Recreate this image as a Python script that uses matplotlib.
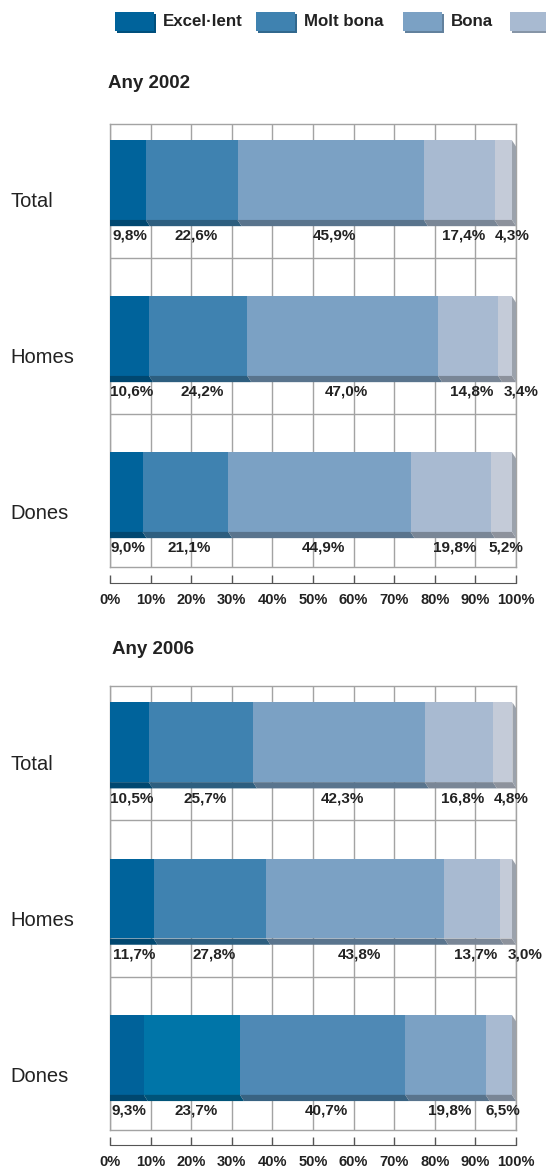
import matplotlib
matplotlib.use('Agg')
import matplotlib.pyplot as plt
import matplotlib.transforms as mtransforms
import matplotlib.colors as mcolors
from matplotlib.patches import Polygon, Rectangle
import numpy as np

plt.rcParams['font.family'] = ['Liberation Sans', 'DejaVu Sans']

# data
categories = ['Total', 'Homes', 'Dones']
legend_labels = ['Excel·lent', 'Molt bona', 'Bona']  # the rest runs off the page
years = ['Any 2002', 'Any 2006']
values_2002 = [[9.8, 22.6, 45.9, 17.4, 4.3],
               [10.6, 24.2, 47.0, 14.8, 3.4],
               [9.0, 21.1, 44.9, 19.8, 5.2]]
values_2006 = [[10.5, 25.7, 42.3, 16.8, 4.8],
               [11.7, 27.8, 43.8, 13.7, 3.0],
               [9.3, 23.7, 40.7, 19.8, 6.5]]
ticks = list(range(0, 101, 10))

# styles
colors = ['#00639B', '#3F82B0', '#7BA1C4', '#A8BAD1', '#C4CBD8']
colors_dones_2006 = ['#00629A', '#0075A8', '#4F89B5', '#7BA1C4', '#A8BAD1']
side_color = '#9BA2AC'
grid_color = '#A3A3A3'
text_color = '#222222'

W, H = 546, 1176
fig = plt.figure(figsize=(W / 100, H / 100), dpi=100)

# overlay in pixel units for legend and titles
ov = fig.add_axes([0, 0, 1, 1])
ov.set_xlim(0, W)
ov.set_ylim(H, 0)
ov.axis('off')


def px_axes(x0, y0, x1, y1):
    return fig.add_axes([x0 / W, 1 - y1 / H, (x1 - x0) / W, (y1 - y0) / H])


def darker(c, f=0.72):
    r, g, b = mcolors.to_rgb(c)
    return (r * f, g * f, b * f)


def label_positions(vals, gap=12):
    lefts = np.concatenate([[0], np.cumsum(vals)[:-1]])
    xs = list(lefts + np.array(vals) / 2)
    for i in range(1, len(xs)):
        xs[i] = max(xs[i], xs[i - 1] + gap)
    return xs


def draw_panel(top, bottom, axis_y, title, title_xy, values, color_rows):
    ax = px_axes(110, top, 516, bottom)
    ax.set_xlim(0, 100)
    ax.set_ylim(2.48, -0.36)
    ax.set_xticks(ticks)
    ax.set_yticks([])
    ax.tick_params(length=0, labelbottom=False)
    ax.grid(axis='x', color=grid_color, lw=1, zorder=0)
    ax.set_axisbelow(True)
    for s in ax.spines.values():
        s.set_color(grid_color)
        s.set_linewidth(1)
    for yy in [0.5, 1.5]:
        ax.axhline(yy, color=grid_color, lw=1, zorder=0)

    shift = ax.transData + mtransforms.ScaledTranslation(-4 / 100, 0, fig.dpi_scale_trans)
    h = 0.51
    dx, dy = 1.0, 0.04
    for i, (cat, vals, cols) in enumerate(zip(categories, values, color_rows)):
        lefts = np.concatenate([[0], np.cumsum(vals)[:-1]])
        bars = ax.barh(i, vals, left=lefts, height=h, color=cols, lw=0, zorder=3)
        for p in bars:
            p.set_transform(shift)
        yb = i + h / 2
        yt = i - h / 2
        for x0, v, c in zip(lefts, vals, cols):
            x1 = x0 + v
            ax.add_patch(Polygon([(x0, yb), (x1, yb), (x1 + dx, yb + dy), (x0 + dx, yb + dy)],
                                 closed=True, color=darker(c), lw=0, zorder=3, transform=shift))
        xe = lefts[-1] + vals[-1]
        ax.add_patch(Polygon([(xe, yt), (xe + dx, yt + dy), (xe + dx, yb + dy), (xe, yb)],
                             closed=True, color=side_color, lw=0, zorder=3, transform=shift))
        for x, v in zip(label_positions(vals), vals):
            ax.text(x, i + 0.357, f'{v:.1f}%'.replace('.', ','), ha='center', va='center',
                    fontsize=11, fontweight='bold', color=text_color, zorder=4)
        ax.text(-0.246, i + 0.14, cat, transform=ax.get_yaxis_transform(), ha='left',
                va='center', fontsize=14.5, color=text_color)

    # percent scale
    sx = px_axes(110, axis_y - 8, 516, axis_y)
    sx.set_xlim(0, 100)
    sx.set_yticks([])
    sx.set_xticks(ticks)
    sx.set_xticklabels([f'{t}%' for t in ticks], fontsize=10.5, fontweight='bold', color=text_color)
    sx.tick_params(axis='x', direction='in', length=6, width=1, color='#555555', pad=7.5)
    for k in ['top', 'left', 'right']:
        sx.spines[k].set_visible(False)
    sx.spines['bottom'].set_color('#555555')
    sx.patch.set_alpha(0)

    ov.text(title_xy[0], title_xy[1], title, fontsize=13.5, fontweight='bold',
            color=text_color, ha='left', va='center')


draw_panel(124, 567, 583, years[0], (108, 83), values_2002, [colors] * 3)
draw_panel(686, 1130, 1145, years[1], (112, 650), values_2006,
           [colors, colors, colors_dones_2006])

# legend across the top (fourth key runs off the right edge like the original)
box_x = [115, 256, 403, 510]
for k, (x, c) in enumerate(zip(box_x, colors)):
    ov.add_patch(Rectangle((x + 1.5, 14), 39, 19, color=darker(c, 0.8), lw=0))
    ov.add_patch(Rectangle((x, 12), 39, 19, color=c, lw=0))
    if k < len(legend_labels):
        ov.text(x + 48, 22, legend_labels[k], fontsize=12.2, fontweight='bold',
                color=text_color, ha='left', va='center')

fig.savefig('out.png', dpi=100)
